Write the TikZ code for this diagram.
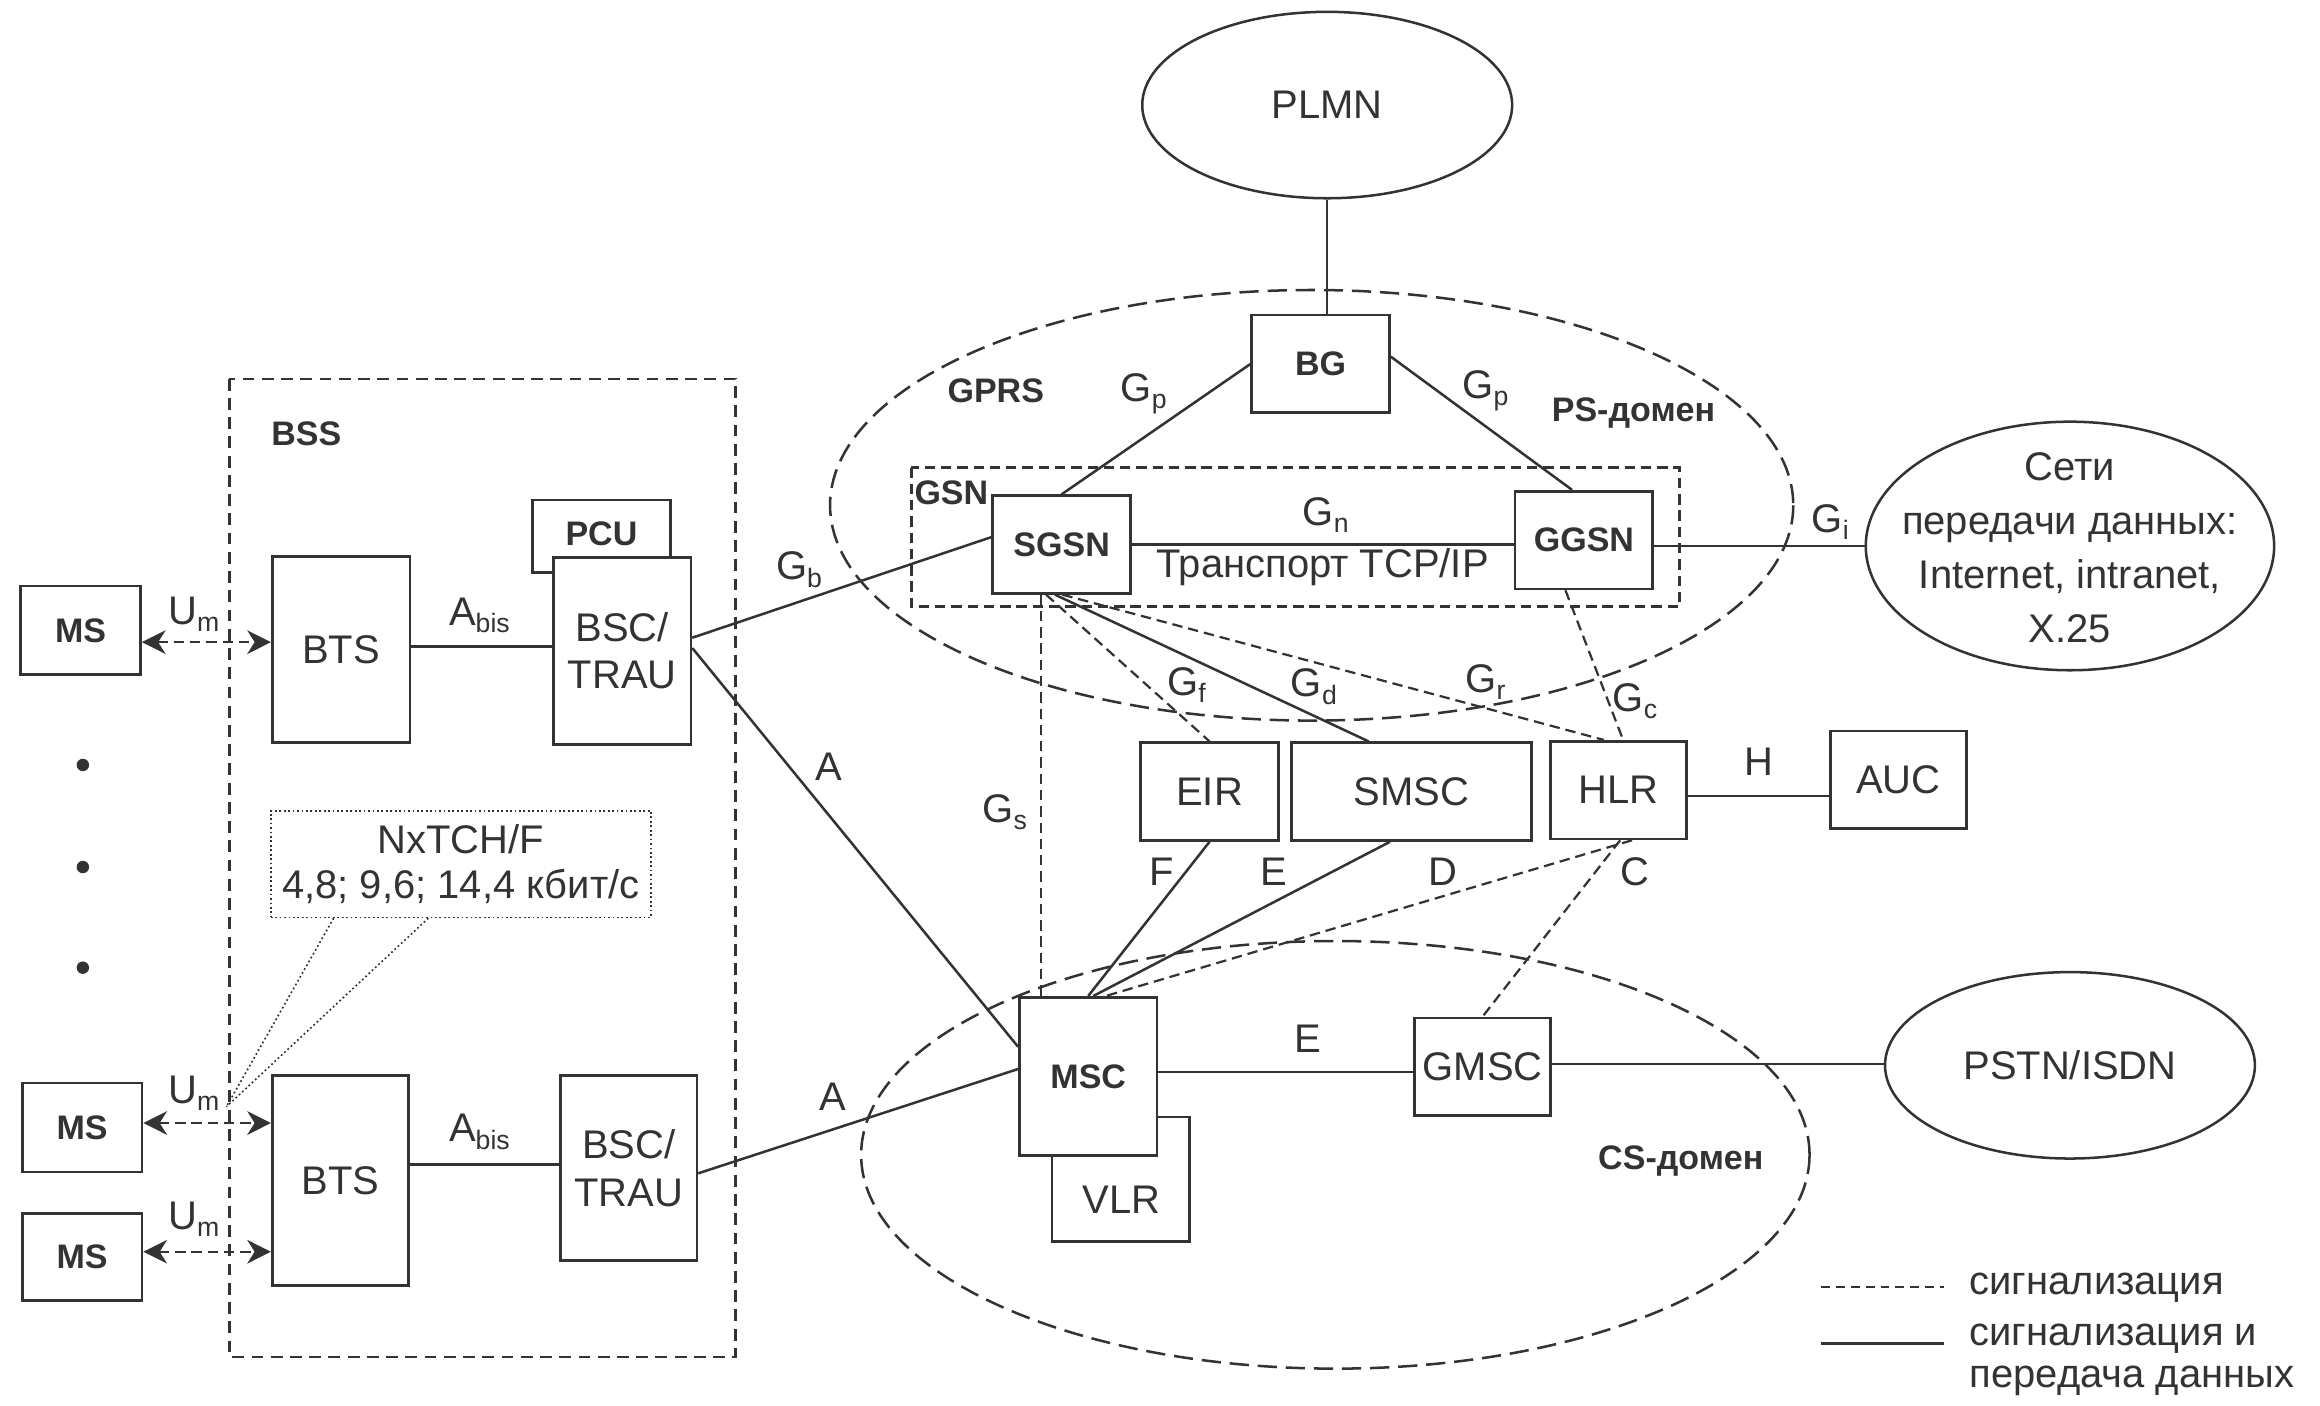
\documentclass[tikz,border=0pt]{standalone}
\usepackage{fontspec}
\setmainfont{Liberation Sans}
\usetikzlibrary{shapes.geometric,arrows.meta,calc}
\definecolor{ink}{HTML}{333333}
% interface name with a lowered index, e.g. G_p
\newcommand\ifc[2]{#1\raisebox{-5pt}{\fontsize{18}{20}\selectfont #2}}

\begin{document}
\begin{tikzpicture}[x=1pt,y=-1pt,
  every node/.style={text=ink},
  box/.style={draw=ink, line width=1.8pt, fill=white, inner sep=0pt,
    font=\fontsize{27}{32}\selectfont, align=center},
  bbox/.style={box, font=\fontsize{23}{27}\selectfont\bfseries},
  netcloud/.style={ellipse, draw=ink, line width=1.7pt, fill=white, inner sep=0pt,
    font=\fontsize{27}{36}\selectfont, align=center},
  txt/.style={font=\fontsize{27}{32}\selectfont, inner sep=0pt},
  btxt/.style={font=\fontsize{23}{27}\selectfont\bfseries, inner sep=0pt},
  link/.style={draw=ink, line width=1.7pt},
  sig/.style={draw=ink, line width=1.5pt, dash pattern=on 7pt off 4pt},
  zone/.style={draw=ink, line width=1.7pt, dash pattern=on 13pt off 6pt},
  grouping/.style={draw=ink, line width=1.6pt, dash pattern=on 8pt off 5pt},
  callout/.style={draw=ink, line width=1.1pt, dash pattern=on 1.2pt off 1.8pt},
  air/.style={sig, {Stealth[length=16pt,width=16pt,inset=5pt]}-{Stealth[length=16pt,width=16pt,inset=5pt]}},
]
\fill[white] (0,0) rectangle (1568,949.6);
\useasboundingbox (0,0) rectangle (1568,949.6);

% ---------- domains and groupings ----------
\draw[zone] (886.5,341.5) ellipse [x radius=325.5, y radius=145.5];
\draw[zone] (902.5,780.5) ellipse [x radius=320.5, y radius=144.5];
\draw[grouping] (155,256) rectangle (497,917);
\draw[grouping, dash pattern=on 7pt off 4pt] (616,316) rectangle (1135,410);

\node[btxt] (bsslbl) at (207,293) {BSS};
\node[btxt] (gprslbl) at (673,264) {GPRS};
\node[btxt] (pslbl) at (1104,279) {PS-домен};
\node[btxt] (gsnlbl) at (643,333) {GSN};
\node[btxt] (cslbl) at (1136,785) {CS-домен};

% ---------- external networks ----------
\node[netcloud, minimum width=250pt, minimum height=126pt] (plmn) at (897,71) {PLMN};
\node[netcloud, minimum width=276pt, minimum height=168pt] (data) at (1399,369) {};
\node[txt, align=center, font=\fontsize{27}{36.5}\selectfont] (datatext) at (1399,370)
  {Сети\\передачи данных:\\Internet, intranet,\\X.25};
\node[netcloud, minimum width=250pt, minimum height=126pt] (pstn) at (1399,720) {PSTN/ISDN};

% ---------- mobile stations ----------
\node[bbox, minimum width=81pt, minimum height=60pt] (ms1) at (54.5,426) {MS};
\node[bbox, minimum width=81pt, minimum height=60pt] (ms2) at (55.5,762) {MS};
\node[bbox, minimum width=81pt, minimum height=59pt] (ms3) at (55.5,849.5) {MS};
\fill[ink] (56,517) circle (4.2) (56,586) circle (4.2) (56,654) circle (4.2);

% ---------- base station subsystem ----------
\node[box, minimum width=93pt, minimum height=126pt] (bts1) at (230.5,439) {BTS};
\node[box, minimum width=92pt, minimum height=142pt] (bts2) at (230,798) {BTS};
\node[bbox, minimum width=93pt, minimum height=49pt, anchor=north] (pcu) at (406.5,337) {\raisebox{4pt}{PCU}};
\node[box, minimum width=93pt, minimum height=126pt] (bsc1) at (420.5,440) {BSC/\\TRAU};
\node[box, minimum width=92pt, minimum height=125pt] (bsc2) at (425,789.5) {BSC/\\TRAU};

\node[callout, minimum width=257pt, minimum height=72pt, inner sep=0pt,
  font=\fontsize{27}{30}\selectfont, align=center] (tch) at (311.5,584)
  {NxTCH/F\\4,8; 9,6; 14,4 кбит/с};
\coordinate (umtip) at (153,748);
\draw[callout] ([xshift=-86pt]tch.south) -- (umtip);
\draw[callout] ([xshift=-22pt]tch.south) -- (umtip);

% ---------- core network ----------
\node[bbox, minimum width=93pt, minimum height=66pt] (bg) at (892.5,246) {BG};
\node[bbox, minimum width=93pt, minimum height=66pt] (sgsn) at (717.5,368) {SGSN};
\node[bbox, minimum width=93pt, minimum height=66pt] (ggsn) at (1070.5,365) {GGSN};
\node[box, minimum width=93pt, minimum height=66pt] (eir) at (817.5,535) {EIR};
\node[box, minimum width=162pt, minimum height=66pt] (smsc) at (954,535) {SMSC};
\node[box, minimum width=92pt, minimum height=66pt] (hlr) at (1094,534) {HLR};
\node[box, minimum width=92pt, minimum height=66pt] (auc) at (1283,527) {AUC};
\node[box, minimum width=93pt, minimum height=84pt] (vlr) at (757.5,797) {};
\node[txt] (vlrtext) at (758,811) {VLR};
\node[bbox, minimum width=93pt, minimum height=107pt] (msc) at (735.5,727.5) {MSC};
\node[box, minimum width=92pt, minimum height=66pt] (gmsc) at (1002,721) {GMSC};

% ---------- radio interface ----------
\draw[air] ([yshift=-8pt]ms1.east) -- ([yshift=-8pt]ms1.east -| bts1.west);
\draw[air] ([yshift=3pt]ms2.east) -- ([yshift=3pt]ms2.east -| bts2.west);
\draw[air] ([yshift=3.5pt]ms3.east) -- ([yshift=3.5pt]ms3.east -| bts2.west);
\node[txt] (um1) at (131,415) {\ifc{U}{m}};
\node[txt] (um2) at (131,739) {\ifc{U}{m}};
\node[txt] (um3) at (131,824) {\ifc{U}{m}};

% ---------- signalling and data links ----------
\draw[link] ([yshift=2pt]bts1.east) -- ([yshift=2pt]bts1.east -| bsc1.west);
\draw[link] ([yshift=11pt]bts2.east) -- ([yshift=11pt]bts2.east -| bsc2.west);
\node[txt] (abis1) at (324,416) {\ifc{A}{bis}};
\node[txt] (abis2) at (324,765) {\ifc{A}{bis}};

\draw[link] ([yshift=9pt]bsc1.east) -- ([yshift=5pt]sgsn.west);
\draw[link] ([yshift=2pt]bsc1.east) -- ([yshift=20pt]msc.west);
\draw[link] ([yshift=-3.5pt]bsc2.east) -- ([yshift=5pt]msc.west);
\node[txt] (gb) at (540,385) {\ifc{G}{b}};
\node[txt] (a1) at (560,518) {A};
\node[txt] (a2) at (563,741) {A};

\draw[link] (plmn.south) -- (plmn.south |- bg.north);
\draw[link] (bg.west) -- (sgsn.north);
\draw[link] ([yshift=5pt]bg.east) -- ([xshift=-8pt]ggsn.north);
\draw[link] (sgsn.east) -- (sgsn.east -| ggsn.west);
\draw[link] ([yshift=-4pt]ggsn.east) -- ([yshift=-4pt]ggsn.east -| data.west);
\node[txt] (gp1) at (773,266) {\ifc{G}{p}};
\node[txt] (gp2) at (1004,264) {\ifc{G}{p}};
\node[txt] (gn) at (896,348) {\ifc{G}{n}};
\node[txt] (tcp) at (894,383) {Транспорт TCP/IP};
\node[txt] (gi) at (1237,353) {\ifc{G}{i}};

\draw[sig] ([xshift=-14pt]sgsn.south) -- ([xshift=-14pt]sgsn.south |- msc.north);
\draw[sig] ([xshift=-10.5pt]sgsn.south) -- (eir.north);
\draw[link] ([xshift=-4.5pt]sgsn.south) -- ([xshift=-29pt]smsc.north);
\draw[sig] ([xshift=0.5pt]sgsn.south) -- ([xshift=-10pt]hlr.north);
\draw[sig] ([xshift=-12.5pt]ggsn.south) -- ([xshift=3pt]hlr.north);
\node[txt] (gs) at (679,549) {\ifc{G}{s}};
\node[txt] (gf) at (802,463) {\ifc{G}{f}};
\node[txt] (gd) at (888,464) {\ifc{G}{d}};
\node[txt] (gr) at (1004,461) {\ifc{G}{r}};
\node[txt] (gc) at (1105,474) {\ifc{G}{c}};

\draw[link] (eir.south) -- (msc.north);
\draw[link] ([xshift=-14.5pt]smsc.south) -- ([xshift=3.5pt]msc.north);
\draw[sig] ([xshift=9pt]hlr.south) -- ([xshift=12pt]msc.north);
\draw[sig] ([xshift=1pt]hlr.south) -- (gmsc.north);
\draw[link] ([yshift=-4pt]hlr.east) -- ([yshift=-4pt]hlr.east -| auc.west);
\node[txt] (f) at (785,589) {F};
\node[txt] (e1) at (861,589) {E};
\node[txt] (d) at (975,589) {D};
\node[txt] (c) at (1105,589) {C};
\node[txt] (h) at (1189,515) {H};

\draw[link] ([yshift=3pt]msc.east) -- ([yshift=3pt]msc.east -| gmsc.west);
\draw[link] ([yshift=2pt]gmsc.east) -- ([yshift=2pt]gmsc.east -| pstn.west);
\node[txt] (e2) at (884,702) {E};

% ---------- legend ----------
\coordinate (ls1) at (1231,870);
\coordinate (le1) at (1314,870);
\coordinate (ls2) at (1231,908);
\coordinate (le2) at (1314,908);
\draw[sig, dash pattern=on 6pt off 4pt] (ls1) -- (le1);
\draw[link] (ls2) -- (le2);
\node[txt, anchor=west] (leg1) at (1331,870) {сигнализация};
\node[txt, anchor=west, align=left, font=\fontsize{27}{28}\selectfont] (leg2) at (1331,919)
  {сигнализация и\\передача данных};
\end{tikzpicture}
\end{document}
